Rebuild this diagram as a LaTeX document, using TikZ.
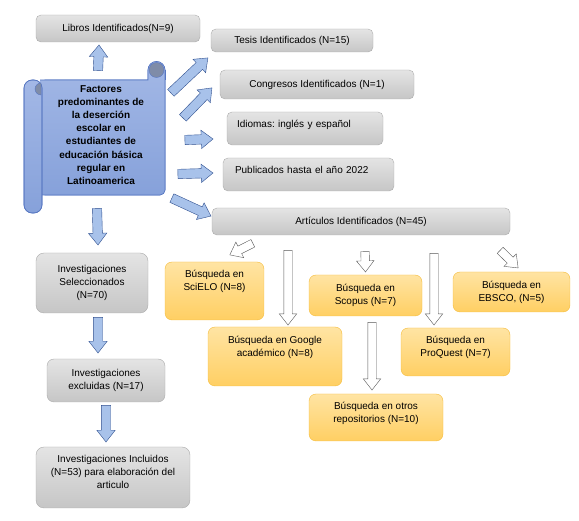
\documentclass[tikz,border=0pt]{standalone}
\usepackage{fontspec}
\setmainfont{Liberation Sans}
\usetikzlibrary{calc, shapes.arrows}
\frenchspacing

\definecolor{grisA}{HTML}{E4E4E4}
\definecolor{grisB}{HTML}{C6C6C6}
\definecolor{grisline}{HTML}{ABABAB}
\definecolor{orA}{HTML}{FFE4A3}
\definecolor{orB}{HTML}{FFCF63}
\definecolor{orline}{HTML}{F4BC3C}
\definecolor{azulfill}{HTML}{A8C2EA}
\definecolor{azulline}{HTML}{2F4F8F}
\definecolor{scrollA}{HTML}{A3B8E6}
\definecolor{scrollB}{HTML}{86A1DA}
\definecolor{scrollline}{HTML}{5777C2}
\definecolor{rolldark}{HTML}{7F8CA8}

% block arrow between two points: style, tail, tip
\newcommand\blockarrow[3]{%
  \path let \p1=(#2), \p2=(#3), \n1={atan2(\y2-\y1,\x2-\x1)}, \n2={veclen(\x2-\x1,\y2-\y1)}
    in node[#1, rotate=\n1, minimum height=\n2, anchor=tail] at (\p1) {};}

\begin{document}
\begin{tikzpicture}[
    x=1pt, y=-1pt,
    font=\fontsize{10}{13}\selectfont,
    grisbox/.style={draw=grisline, top color=grisA, bottom color=grisB, rounded corners=5pt, align=center, inner sep=2pt},
    naranja/.style={draw=orline, top color=orA, bottom color=orB, rounded corners=7pt, align=center, inner sep=2pt},
    scrollc/.style={draw=scrollline, top color=scrollA, bottom color=scrollB, line width=0.6pt},
    flechaazul/.style={single arrow, draw=azulline, fill=azulfill, inner xsep=0pt, inner ysep=4.5pt, minimum width=0pt, single arrow head extend=4.5pt, single arrow tip angle=76},
    flechablanca/.style={single arrow, draw=black!65, fill=white, inner xsep=0pt, inner ysep=4pt, minimum width=0pt, single arrow head extend=4.5pt, single arrow tip angle=76}
  ]
  \useasboundingbox (0,0) rectangle (579,521);

  % scroll
  \path[scrollc] (40,80) -- (148,80) -- (148,70) arc[start angle=180, end angle=0, radius=8.5pt]
    [rounded corners=5pt] -- (165,195) -- (40,195) -- cycle;
  \draw[scrollc] (40,80) -- (148,80) -- (148,70) arc[start angle=180, end angle=0, radius=8.5pt]
    [rounded corners=5pt] -- (165,195) -- (40,195);
  \filldraw[draw=scrollline, fill=rolldark] (156.5,70) circle (7.5pt);
  \draw[scrollline, line width=0.6pt] (165,70) -- (165,80);
  \path[scrollc, rounded corners=8pt] (24,80) rectangle (42,213);
  \draw[scrollline, line width=0.6pt, rounded corners=8pt] (24,80) rectangle (42,213);
  \filldraw[draw=scrollline, fill=rolldark] (41,83) arc[start angle=90, end angle=270, radius=6pt] -- cycle;
  \node[font=\fontsize{10}{13.2}\selectfont\bfseries, align=center, minimum width=125, minimum height=124] (scroll) at (101,135)
    {Factores\\predominantes de\\la deserción\\escolar en\\estudiantes de\\educación básica\\regular en\\Latinoamerica};

  % gray boxes
  \node[grisbox, minimum width=164, minimum height=27] (libros) at (118,28.5) {Libros Identificados(N=9)};
  \node[grisbox, minimum width=162, minimum height=23] (tesis) at (292,40.5) {Tesis Identificados (N=15)};
  \node[grisbox, minimum width=194, minimum height=29] (congresos) at (317,84.5) {Congresos Identificados (N=1)};
  \node[grisbox, minimum width=156, minimum height=33, text width=136, align=left, text depth=9] (idiomas) at (305,128.5) {Idiomas: inglés y español};
  \node[grisbox, minimum width=171, minimum height=33, text width=147, align=left, text depth=9] (publicados) at (308.5,174.5) {Publicados hasta el año 2022};
  \node[grisbox, minimum width=298, minimum height=27] (articulos) at (361,221.5) {Artículos Identificados (N=45)};
  \node[grisbox, minimum width=112, minimum height=60, rounded corners=8pt] (sel) at (92,283) {Investigaciones\\Seleccionados\\(N=70)};
  \node[grisbox, minimum width=118, minimum height=43, rounded corners=7pt] (excl) at (106,380.5) {Investigaciones\\excluidas (N=17)};
  \node[grisbox, minimum width=154, minimum height=61, rounded corners=8pt, text depth=10.5] (incl) at (113,477.5) {Investigaciones Incluidos\\(N=53) para elaboración del\\articulo};

  % orange boxes
  \node[naranja, minimum width=99, minimum height=58, text depth=20.5] (scielo) at (214.5,291) {Búsqueda en\\SciELO (N=8)};
  \node[naranja, minimum width=134, minimum height=59, text depth=20.5] (google) at (275,356.5) {Búsqueda en Google\\académico (N=8)};
  \node[naranja, minimum width=113, minimum height=41] (scopus) at (365.5,295.5) {Búsqueda en\\Scopus (N=7)};
  \node[naranja, minimum width=109, minimum height=48, text depth=11.5] (proquest) at (455.5,352) {Búsqueda en\\ProQuest (N=7)};
  \node[naranja, minimum width=117, minimum height=40] (ebsco) at (511.5,292) {Búsqueda en\\EBSCO, (N=5)};
  \node[naranja, minimum width=134, minimum height=47, text depth=10.5] (otros) at (376,417.5) {Búsqueda en otros\\repositorios (N=10)};

  % blue arrows
  \blockarrow{flechaazul}{$(scroll.north)+(-3,-2)$}{$(libros.south)+(-19,3)$}
  \blockarrow{flechaazul}{$(scroll.east)+(7,-42)$}{$(tesis.west)+(-3,17.5)$}
  \blockarrow{flechaazul}{$(scroll.east)+(19,-17)$}{$(congresos.west)+(-8,3.5)$}
  \blockarrow{flechaazul}{$(scroll.east)+(21,5)$}{$(idiomas.west)+(-14,10.5)$}
  \blockarrow{flechaazul}{$(scroll.east)+(14,39)$}{$(publicados.west)+(-10,-1.5)$}
  \blockarrow{flechaazul}{$(scroll.east)+(8,63)$}{$(articulos.west)+(-1,-5.5)$}
  \blockarrow{flechaazul}{$(scroll.south)+(-4,11)$}{$(sel.north)+(6,-8)$}
  \blockarrow{flechaazul}{$(sel.south)+(6,4)$}{$(excl.north)+(-8,-6)$}
  \blockarrow{flechaazul}{$(excl.south)+(0,3)$}{$(incl.north)+(-7,-5)$}

  % white arrows
  \blockarrow{flechablanca}{$(articulos.south)+(-108,8)$}{$(scielo.north)+(15.5,-7)$}
  \blockarrow{flechablanca}{$(articulos.south)+(-73,15)$}{$(google.north)+(13,-2)$}
  \blockarrow{flechablanca}{$(articulos.south)+(4,16)$}{$(scopus.north)+(0,-3)$}
  \blockarrow{flechablanca}{$(articulos.south)+(73,18)$}{$(proquest.north)+(-21.5,-3)$}
  \blockarrow{flechablanca}{$(articulos.south)+(139,15)$}{$(ebsco.north)+(6.5,-4)$}
  \blockarrow{flechablanca}{$(scopus.south)+(6.5,6)$}{$(otros.north)+(-4,-4)$}
\end{tikzpicture}
\end{document}
